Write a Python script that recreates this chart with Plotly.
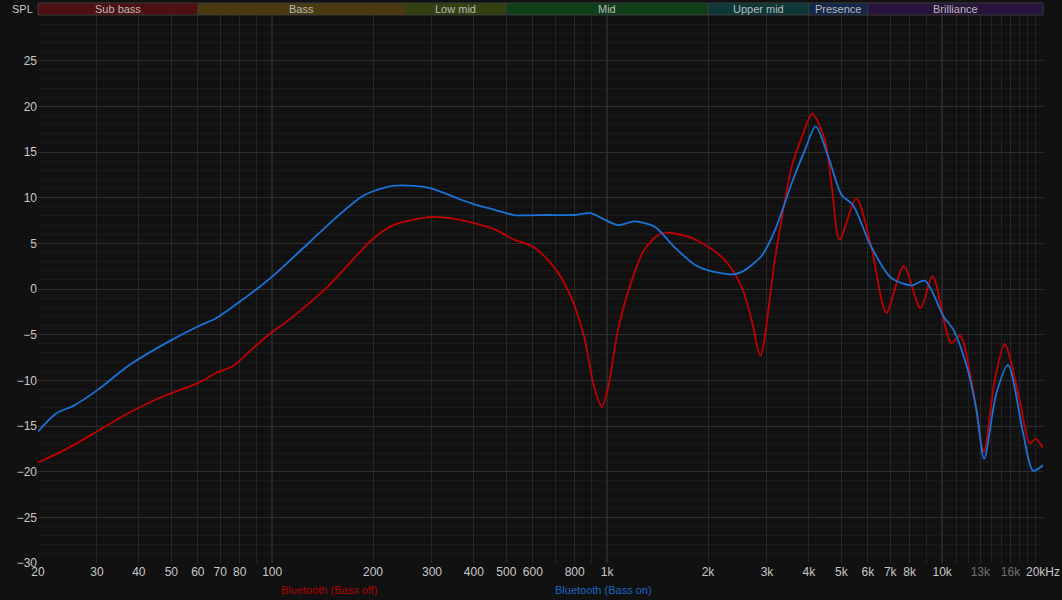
import math
import plotly.graph_objects as go

# ---------------- data ----------------
freq_off = [20, 23.8, 30, 37.6, 45, 50, 60, 68, 76.6, 90, 100, 113, 146, 175, 200, 230, 265, 300,
            348, 400, 470, 527, 603, 694, 779, 853, 914, 964, 1008, 1077, 1186, 1291, 1452, 1753,
            2101, 2313, 2535, 2700, 2867, 3175, 3557, 3817, 4096, 4466, 4683, 4939, 5545, 6145, 6815,
            7673, 8619, 9366, 10637, 11310, 12380, 13313, 14350, 15366, 17040, 18260, 19030, 20000]
spl_off = [-19.0, -17.7, -15.6, -13.5, -12.1, -11.4, -10.3, -9.2, -8.4, -6.1, -4.7, -3.3, 0.2, 3.3, 5.5, 7.0, 7.6, 7.9,
           7.7, 7.2, 6.4, 5.4, 4.6, 2.4, -0.8, -5.2, -10.7, -12.9, -10.7, -4.5, 1.0, 4.3, 6.1, 5.7,
           4.1, 2.6, 0.0, -3.4, -7.3, 3.5, 13.4, 16.7, 19.2, 16.3, 11.2, 5.4, 9.9, 4.6, -2.6,
           2.5, -2.1, 1.4, -5.9, -5.1, -11.1, -17.8, -10.0, -6.0, -12.2, -16.9, -16.4, -17.4]

freq_on = [20, 22.7, 25.5, 30, 37.6, 50, 60, 68, 76.6, 90, 100, 130, 156, 183, 200, 230, 265, 300,
           365, 400, 458, 527, 661, 795, 894, 981, 1077, 1209, 1388, 1596, 1835, 2012, 2365, 2535,
           2900, 3175, 3557, 3893, 4193, 4571, 5009, 5415, 6145, 7050, 8097, 8885, 10092, 10818,
           11853, 12668, 13343, 14520, 15723, 17450, 18679, 20000]
spl_on = [-15.6, -13.6, -12.8, -11.1, -8.3, -5.6, -4.1, -3.2, -1.9, 0.0, 1.35, 5.2, 7.9, 10.0, 10.7, 11.3, 11.3, 11.0,
          9.8, 9.3, 8.7, 8.1, 8.1, 8.1, 8.3, 7.6, 7.0, 7.4, 6.8, 4.5, 2.6, 2.0, 1.6, 1.9,
          3.7, 6.5, 11.6, 15.2, 17.8, 14.5, 10.3, 9.2, 4.6, 1.2, 0.4, 0.9, -3.0, -4.5,
          -8.5, -13.3, -18.6, -11.4, -8.3, -15.8, -19.9, -19.3]

x_tickvals = [20, 30, 40, 50, 60, 70, 80, 100, 200, 300, 400, 500, 600, 800, 1000, 2000, 3000,
              4000, 5000, 6000, 7000, 8000, 10000, 13000, 16000, 20000]
x_ticktext = ["20", "30", "40", "50", "60", "70", "80", "100", "200", "300", "400", "500", "600",
              "800", "1k", "2k", "3k", "4k", "5k", "6k", "7k", "8k", "10k",
              "<span style='color:#6f6f6f'>13k</span>", "<span style='color:#6f6f6f'>16k</span>", "20kHz"]
x_minor = [90, 700, 900, 9000, 11000, 12000, 14000, 15000, 17000, 18000, 19000]
x_bright = [100, 1000, 10000]

y_tickvals = [-30, -25, -20, -15, -10, -5, 0, 5, 10, 15, 20, 25]
y_minor = list(range(-30, 31))

band_names = ["Sub bass", "Bass", "Low mid", "Mid", "Upper mid", "Presence", "Brilliance"]
band_edges = [20, 60, 250, 500, 2000, 4000, 6000, 20000]
band_colors = ["#4e1012", "#4a3a10", "#33400f", "#0f3f18", "#0e3838", "#14274a", "#29143e"]

series_names = ["Bluetooth (Bass off)", "Bluetooth (Bass on)"]
series_colors = ["#c00000", "#1a72d6"]

# ---------------- figure ----------------
LMIN, LMAX = math.log10(20), math.log10(20000)


def xfrac(f):
    return (math.log10(f) - LMIN) / (LMAX - LMIN)


fig = go.Figure()
fig.add_trace(go.Scatter(x=freq_off, y=spl_off, mode="lines", name=series_names[0],
                         line=dict(color=series_colors[0], width=1.8, shape="spline", smoothing=0.8)))
fig.add_trace(go.Scatter(x=freq_on, y=spl_on, mode="lines", name=series_names[1],
                         line=dict(color=series_colors[1], width=1.8, shape="spline", smoothing=0.8)))

shapes = []
for f in x_bright:
    shapes.append(dict(type="line", xref="paper", yref="paper", x0=xfrac(f), x1=xfrac(f), y0=0, y1=1,
                       line=dict(color="#505050", width=1), layer="below"))
band_top = 1.022
for i, name in enumerate(band_names):
    x0, x1 = xfrac(band_edges[i]), xfrac(band_edges[i + 1])
    shapes.append(dict(type="rect", xref="paper", yref="paper", x0=x0, x1=x1, y0=1.0, y1=band_top,
                       fillcolor=band_colors[i], line=dict(color="#3a3a3a", width=1), layer="above"))
annotations = []
for i, name in enumerate(band_names):
    xm = (xfrac(band_edges[i]) + xfrac(band_edges[i + 1])) / 2
    annotations.append(dict(text=name, xref="paper", yref="paper", x=xm, y=(1.0 + band_top) / 2,
                            showarrow=False, xanchor="center", yanchor="middle",
                            font=dict(size=11, color="#b8b8b8")))
annotations.append(dict(text="SPL", xref="paper", yref="paper", x=-0.003, y=1.011, showarrow=False,
                        xanchor="right", yanchor="middle", font=dict(size=11, color="#c8c8c8")))
annotations.append(dict(text=series_names[0], xref="paper", yref="paper", x=0.2896, y=-0.049,
                        showarrow=False, xanchor="center", yanchor="middle",
                        font=dict(size=11, color="#b00000")))
annotations.append(dict(text=series_names[1], xref="paper", yref="paper", x=0.563, y=-0.049,
                        showarrow=False, xanchor="center", yanchor="middle",
                        font=dict(size=11, color="#1a66c4")))

fig.update_layout(
    width=1062, height=600,
    margin=dict(l=38, r=19, t=15, b=37, autoexpand=False),
    paper_bgcolor="#111111", plot_bgcolor="#111111",
    showlegend=False,
    font=dict(family="Liberation Sans, Arial, sans-serif", size=12, color="#c8c8c8"),
    shapes=shapes, annotations=annotations,
    xaxis=dict(type="log", range=[LMIN, LMAX], tickmode="array", tickvals=x_tickvals, ticktext=x_ticktext,
               automargin=False,
               showgrid=True, gridcolor="#282828", gridwidth=1, zeroline=False, showline=False,
               ticks="", tickfont=dict(size=12, color="#c8c8c8"),
               minor=dict(tickmode="array", tickvals=x_minor, showgrid=True, gridcolor="#222222", ticks="")),
    yaxis=dict(range=[-30, 30], tickmode="array", tickvals=y_tickvals, automargin=False,
               showgrid=True, gridcolor="#2e2e2e", gridwidth=1, zeroline=False, showline=False,
               ticks="", tickfont=dict(size=12, color="#c8c8c8"),
               minor=dict(tickmode="array", tickvals=y_minor, showgrid=True, gridcolor="#1a1a1a", ticks="")),
)

fig.write_html("out.html", config={"displayModeBar": False},
               post_script="document.body.style.margin='0';document.body.style.background='#111111';"
                           "document.body.style.overflow='hidden';")
